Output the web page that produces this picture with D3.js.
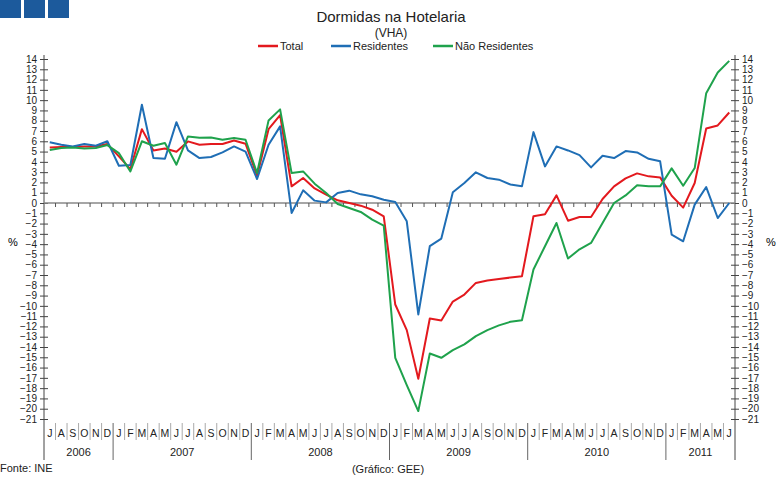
<!DOCTYPE html>
<html>
<head>
<meta charset="utf-8">
<script src="https://cdn.jsdelivr.net/npm/d3@7"></script>
<style>
  body { margin: 0; background: #fff; }
  text { font-family: "Liberation Sans", Arial, sans-serif; }
</style>
</head>
<body>
<script>
// months Jul 2006 .. Jun 2011
var monthLetters = ["J","F","M","A","M","J","J","A","S","O","N","D"];
var years = ["2006","2007","2008","2009","2010","2011"];
var startMonth = 6, nMonths = 60;

var total = [5.4,5.44,5.44,5.5,5.5,5.73, 4.53,3.3,7.18,5.11,5.3,4.98,5.99,5.66,5.73,5.73,6.08,5.76,
  2.65,7.18,8.55,1.62,2.43,1.42,0.81,0.26,0.0,-0.26,-0.65,-1.29,
  -9.87,-12.36,-17.09,-11.23,-11.42,-9.58,-8.9,-7.77,-7.54,-7.38,-7.25,-7.12,
  -1.29,-1.1,0.74,-1.72,-1.36,-1.36,0.39,1.62,2.39,2.88,2.59,2.49,
  0.71,-0.45,1.94,7.25,7.54,8.8];
var residentes = [5.9,5.66,5.5,5.73,5.57,6.0, 3.62,3.7,9.55,4.37,4.3,7.86,5.11,4.37,4.47,4.92,5.5,5.0,
  2.33,5.66,7.45,-0.97,1.23,0.23,0.06,0.97,1.2,0.84,0.65,0.32,
  0.1,-1.78,-10.84,-4.2,-3.46,1.04,1.94,2.98,2.43,2.27,1.8,1.62,
  6.89,3.56,5.5,5.11,4.66,3.46,4.6,4.37,5.05,4.92,4.3,4.05,
  -3.07,-3.72,-0.16,1.55,-1.46,0.0];
var naoResidentes = [5.15,5.34,5.4,5.3,5.34,5.63, 4.85,3.07,6.0,5.57,5.83,3.72,6.47,6.34,6.37,6.15,6.31,6.15,
  2.91,8.03,9.1,2.91,3.07,1.88,0.97,-0.1,-0.49,-0.87,-1.62,-2.2,
  -15.05,-17.7,-20.23,-14.63,-15.05,-14.3,-13.75,-12.94,-12.36,-11.9,-11.55,-11.4,
  -6.47,-4.2,-1.94,-5.4,-4.5,-3.88,-1.94,0.0,0.74,1.72,1.62,1.62,
  3.37,1.68,3.4,10.68,12.69,13.82];

var seriesNames = ["Total","Residentes","Não Residentes"];
var seriesColors = ["#e3191e","#1f6eb5","#1fa24c"];
var seriesData = [total, residentes, naoResidentes];

var width = 783, height = 478;
var svg = d3.select("body").append("svg")
  .attr("width", width).attr("height", height);

var months = d3.range(nMonths);
var x = d3.scaleBand().domain(months).range([44, 735]).padding(0);
var y = d3.scaleLinear().domain([-21, 14]).range([419, 59]);

// header squares
[0, 24, 48].forEach(function(sx) {
  svg.append("rect").attr("x", sx).attr("y", 0).attr("width", 21).attr("height", 18)
    .attr("fill", "#1c5a9c");
});

svg.append("text").attr("x", 391).attr("y", 22).attr("text-anchor", "middle")
  .style("font-size", "15px").attr("fill", "#222").text("Dormidas na Hotelaria");
svg.append("text").attr("x", 391).attr("y", 37).attr("text-anchor", "middle")
  .style("font-size", "12px").attr("fill", "#222").text("(VHA)");

// legend
var legendX = [258, 331, 433];
seriesNames.forEach(function(n, i) {
  svg.append("line").attr("x1", legendX[i]).attr("x2", legendX[i] + 20)
    .attr("y1", 46).attr("y2", 46).attr("stroke", seriesColors[i]).attr("stroke-width", 2.5);
  svg.append("text").attr("x", legendX[i] + 22).attr("y", 50)
    .style("font-size", "11px").attr("fill", "#222").text(n);
});

// y axes
var ticks = d3.range(-21, 15);
var leftAxis = d3.axisLeft(y).tickValues(ticks).tickSize(4).tickPadding(3);
var rightAxis = d3.axisRight(y).tickValues(ticks).tickSize(4).tickPadding(3);

var gl = svg.append("g").attr("transform", "translate(44,0)").call(leftAxis);
var gr = svg.append("g").attr("transform", "translate(735,0)").call(rightAxis);
[gl, gr].forEach(function(g) {
  g.select(".domain").remove();
  g.selectAll(".tick line").attr("x1", -4).attr("x2", 4).attr("stroke", "#444");
  g.selectAll(".tick text").style("font-size", "10px").attr("fill", "#222")
    .style("font-family", "'Liberation Sans', Arial, sans-serif");
  g.append("line").attr("x1", 0).attr("x2", 0).attr("y1", 55).attr("y2", 460)
    .attr("stroke", "#444");
});

svg.append("text").attr("x", 8).attr("y", 246).style("font-size", "11px").text("%");
svg.append("text").attr("x", 766).attr("y", 246).style("font-size", "11px").text("%");

// zero line with month ticks
svg.append("line").attr("x1", 44).attr("x2", 735).attr("y1", y(0)).attr("y2", y(0))
  .attr("stroke", "#888").attr("stroke-width", 1.5);
months.forEach(function(m) {
  if (m === 0) return;
  svg.append("line").attr("x1", x(m)).attr("x2", x(m))
    .attr("y1", y(0)).attr("y2", y(0) + 4).attr("stroke", "#555");
});

// lines
var line = d3.line()
  .x(function(d, i) { return x(i) + x.bandwidth() / 2; })
  .y(function(d) { return y(d); });
seriesData.forEach(function(s, i) {
  svg.append("path").datum(s).attr("d", line).attr("fill", "none")
    .attr("stroke", seriesColors[i]).attr("stroke-width", 2)
    .attr("stroke-linejoin", "round");
});

// month labels and separators
months.forEach(function(m) {
  var mi = (startMonth + m) % 12;
  svg.append("text").attr("x", x(m) + x.bandwidth() / 2).attr("y", 437)
    .attr("text-anchor", "middle").style("font-size", "10.5px").attr("fill", "#222")
    .text(monthLetters[mi]);
  if (m > 0) {
    var yearStart = mi === 0;
    svg.append("line").attr("x1", x(m)).attr("x2", x(m))
      .attr("y1", 423).attr("y2", yearStart ? 460 : 440)
      .attr("stroke", yearStart ? "#666" : "#aaa");
  }
});

// year labels
years.forEach(function(yr, j) {
  var a = j === 0 ? 0 : 6 + (j - 1) * 12;
  var b = Math.min(6 + j * 12, nMonths);
  var cx = (x(a) + (b < nMonths ? x(b) : 735)) / 2;
  svg.append("text").attr("x", cx).attr("y", 456).attr("text-anchor", "middle")
    .style("font-size", "11px").attr("fill", "#222").text(yr);
});

svg.append("text").attr("x", 0).attr("y", 472).style("font-size", "11px")
  .attr("fill", "#222").text("Fonte: INE");
svg.append("text").attr("x", 388).attr("y", 473).attr("text-anchor", "middle")
  .style("font-size", "11px").attr("fill", "#222").text("(Gráfico: GEE)");
</script>
</body>
</html>
